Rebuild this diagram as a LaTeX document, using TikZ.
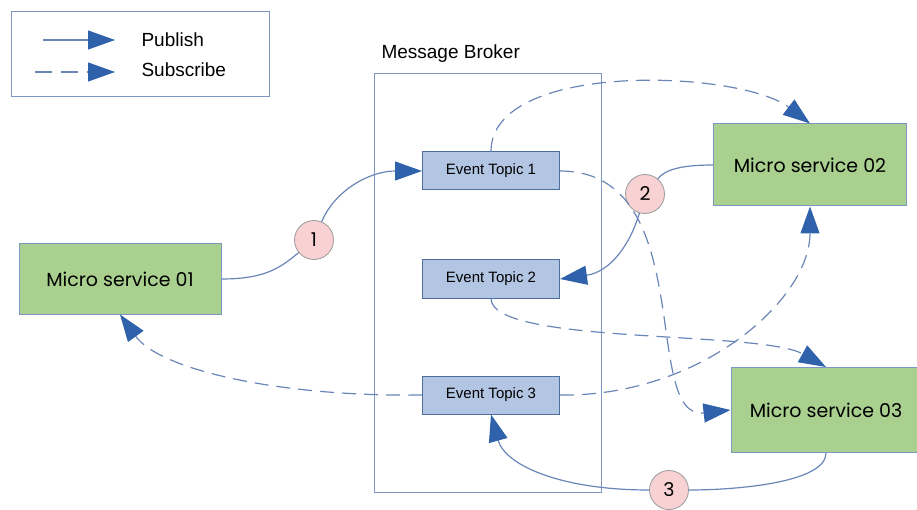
\documentclass[tikz,border=0pt]{standalone}
\usepackage{fontspec}
\setmainfont{Liberation Sans}
\newfontfamily\roundfont{Poppins}
\usetikzlibrary{arrows.meta}

\definecolor{linkblue}{HTML}{6A86B8}
\definecolor{tipblue}{HTML}{2F62AA}
\definecolor{framegray}{HTML}{7D97C2}
\definecolor{servicegreen}{HTML}{A9D08E}
\definecolor{topicblue}{HTML}{B2C5E2}
\definecolor{topicline}{HTML}{4E6E9E}
\definecolor{markpink}{HTML}{F8D2D2}

\begin{document}
\begin{tikzpicture}[x=1pt,y=-1pt]
		\tikzset{service/.style={shape = rectangle, draw = framegray, fill = servicegreen, line width = 1pt, minimum width = 202pt, minimum height = 70pt, font = \roundfont\fontsize{19}{21}\selectfont}}
		\tikzset{topic/.style={shape = rectangle, draw = topicline, fill = topicblue, line width = 1pt, minimum width = 137pt, minimum height = 38pt, font = \fontsize{15}{17}\selectfont}}
		\tikzset{stepmark/.style={shape = circle, draw = gray!80, fill = markpink, line width = 0.8pt, minimum size = 39pt, inner sep = 0pt, font = \roundfont\fontsize{19}{21}\selectfont}}
		\tikzset{pub/.style={draw = linkblue, line width = 1.2pt, -{Triangle[length = 27pt, width = 19pt, color = tipblue]}}}
		\tikzset{sub/.style={pub, dash pattern = on 14pt off 8pt}}
		\tikzset{plain/.style={draw = linkblue, line width = 1.2pt}}
		\useasboundingbox (0,0) rectangle (917,510);
					%legend
					\draw[draw = framegray, line width = 1pt] (11,12) rectangle (269,97);
					\coordinate (pubA) at (43,40);
					\coordinate (pubB) at (115,40);
					\coordinate (subA) at (35,72);
					\coordinate (subB) at (115,72);
					\node[anchor = west, font = \fontsize{19}{21}\selectfont] (publish) at (138,40) {Publish};
					\node[anchor = west, font = \fontsize{19}{21}\selectfont] (subscribe) at (138,70) {Subscribe};
					\draw[pub] (pubA) -- (pubB);
					\draw[sub, dash pattern = on 17pt off 9pt] (subA) -- (subB);
					%broker
					\draw[draw = framegray, line width = 1pt] (374,74) rectangle (601,492);
					\node[anchor = west, font = \fontsize{19}{21}\selectfont] (broker) at (378,54) {Message Broker};
					%vertices
					\node[topic] (et1) at (491,171) {Event Topic 1};
					\node[topic] (et2) at (491,279) {Event Topic 2};
					\node[topic] (et3) at (491,395) {Event Topic 3};
					\node[service] (ms1) at (120,279) {Micro service 01};
					\node[service, minimum width = 193pt, minimum height = 82pt] (ms2) at (810,165) {Micro service 02};
					\node[service, minimum width = 190pt, minimum height = 85pt] (ms3) at (826,410) {Micro service 03};
					\node[stepmark] (c1) at (314,240) {1};
					\node[stepmark] (c2) at (645,194) {2};
					\node[stepmark] (c3) at (669,490) {3};
					%publish edges
					\draw[plain] (ms1.east) .. controls (265,279) and (280,268) .. (c1);
					\draw[pub] (c1) .. controls (335,190) and (370,171) .. (et1.west);
					\draw[plain] (ms2.west) .. controls (680,165) and (665,170) .. (c2);
					\draw[pub] (c2) .. controls (630,245) and (610,272) .. (et2.east);
					\draw[plain] (ms3.south) .. controls (826,482) and (740,490) .. (c3);
					\draw[pub] (c3) .. controls (560,490) and (505,465) .. (et3.south);
					%subscribe edges
					\draw[sub] (et1.north) .. controls (491,60) and (740,70) .. (ms2.north);
					\draw[sub] (et1.east) .. controls (700,171) and (640,420) .. (ms3.west);
					\draw[sub] (et2.south) .. controls (491,345) and (760,330) .. (ms3.north);
					\draw[sub] (et3.east) .. controls (700,397) and (810,300) .. (ms2.south);
					\draw[sub] (et3.west) .. controls (280,397) and (160,370) .. (ms1.south);
					
					\end{tikzpicture}
\end{document}
